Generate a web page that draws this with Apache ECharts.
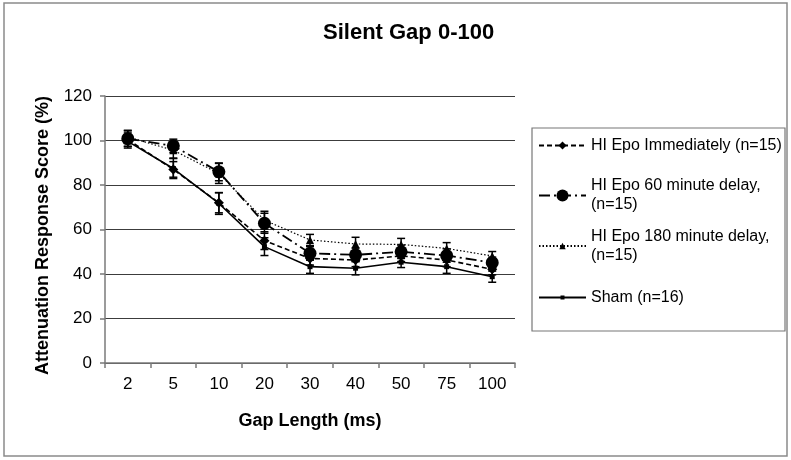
<!DOCTYPE html>
<html>
<head>
<meta http-equiv="Content-Type" content="text/html; charset=utf8">
<title>Silent Gap 0-100</title>
<script src="https://cdn.jsdelivr.net/npm/echarts@6/dist/echarts.min.js"></script>
<style type="text/css">
html,body{margin:0;padding:0;background:#fff;}
#main{width:791px;height:460px;}
</style>
</head>
<body>
<div id="main"></div>
<script>
// gap lengths (ms) on the x axis
var gapLabels = ['2', '5', '10', '20', '30', '40', '50', '75', '100'];

// mean attenuation response score (%) per group
var epoImmediate = [100.4, 87, 72, 55, 47, 46.3, 48.1, 46.3, 42.1];
var epo60 = [100.8, 97.6, 85.9, 62.8, 49.3, 48.6, 50, 48.3, 45.1];
var epo180 = [101.6, 95.6, 85.2, 64.2, 55.3, 53.5, 53.3, 51.5, 48.1];
var sham = [99.6, 87.4, 71.7, 52.3, 43.3, 42.6, 45.3, 43.3, 38.8];

// error bar half lengths
var epoImmediateErr = [3, 3.5, 4.5, 4, 3, 3, 2.5, 3, 2.5];
var epo60Err = [3.5, 3, 4, 4.5, 3, 3, 3, 3, 2.5];
var epo180Err = [3, 3.5, 4.5, 4, 2.5, 3, 2.7, 2.6, 2];
var shamErr = [3, 4.5, 4.9, 4, 3, 3, 2.4, 3, 2.5];

var names = [
	'HI Epo Immediately (n=15)',
	'HI Epo 60 minute delay,\n(n=15)',
	'HI Epo 180 minute delay,\n(n=15)',
	'Sham (n=16)'
];

var font = 'Liberation Sans, Arial, sans-serif';

function errorBars(values, errs){
	return {
		type:'custom',
		silent:true,
		z:3,
		encode:{x:0, y:[1, 2]},
		data:values.map(function(v, i){ return [i, v - errs[i], v + errs[i]]; }),
		renderItem:function(params, api){
			var lo = api.coord([api.value(0), api.value(1)]);
			var hi = api.coord([api.value(0), api.value(2)]);
			var w = 4;
			var st = {stroke:'#000', lineWidth:1.5};
			return {type:'group', children:[
				{type:'line', shape:{x1:lo[0], y1:lo[1], x2:hi[0], y2:hi[1]}, style:st},
				{type:'line', shape:{x1:hi[0]-w, y1:hi[1], x2:hi[0]+w, y2:hi[1]}, style:st},
				{type:'line', shape:{x1:lo[0]-w, y1:lo[1], x2:lo[0]+w, y2:lo[1]}, style:st}
			]};
		}
	};
}

function legendFor(name, top, h, twoLines){
	return {
		data:[name],
		orient:'vertical',
		left:538,
		top:top,
		padding:0,
		itemWidth:47,
		itemHeight:h,
		itemGap:0,
		selectedMode:false,
		textStyle:{
			fontFamily:font,
			fontSize:16,
			color:'#000',
			lineHeight:19,
			padding:twoLines ? [19, 0, 0, 0] : 0
		}
	};
}

var chart = echarts.init(document.getElementById('main'));

var option = {
	animation:false,
	backgroundColor:'#fff',
	title:{
		text:'Silent Gap 0-100',
		left:318,
		top:17,
		textStyle:{fontFamily:font, fontSize:22, fontWeight:'bold', color:'#000'}
	},
	legend:[
		legendFor(names[0], 136, 10, false),
		legendFor(names[1], 167, 15, true),
		legendFor(names[2], 217.5, 8, true),
		legendFor(names[3], 288, 5, false)
	],
	graphic:[
		{type:'rect', shape:{x:4, y:3, width:783, height:453}, style:{fill:'none', stroke:'#8a8a8a', lineWidth:1.5}, silent:true},
		{type:'rect', shape:{x:532, y:128, width:253, height:203}, style:{fill:'none', stroke:'#777', lineWidth:1.2}, silent:true}
	],
	grid:{left:105, right:276, top:96, bottom:97, outerBoundsMode:'none'},
	xAxis:{
		type:'category',
		data:gapLabels,
		boundaryGap:true,
		name:'Gap Length (ms)',
		nameLocation:'middle',
		nameGap:49,
		nameTextStyle:{fontFamily:font, fontSize:18, fontWeight:'bold', color:'#000'},
		axisLine:{lineStyle:{color:'#7a7a7a', width:1.5}},
		axisTick:{show:true, interval:0, length:5, lineStyle:{color:'#7a7a7a', width:1.5}},
		axisLabel:{fontFamily:font, fontSize:17, color:'#000', margin:13, interval:0}
	},
	yAxis:{
		type:'value',
		min:0,
		max:120,
		interval:20,
		name:'Attenuation Response Score (%)',
		nameLocation:'middle',
		nameGap:53,
		nameTextStyle:{fontFamily:font, fontSize:18, fontWeight:'bold', color:'#000', padding:[0, 12, 0, 0]},
		axisLine:{show:true, lineStyle:{color:'#7a7a7a', width:1.5}},
		axisTick:{show:true, length:5, lineStyle:{color:'#7a7a7a', width:1.5}},
		axisLabel:{fontFamily:font, fontSize:17, color:'#000', margin:13},
		splitLine:{show:true, lineStyle:{color:'#3c3c3c', width:1.2}}
	},
	series:[
		{
			name:names[0], type:'line', data:epoImmediate, z:4,
			symbol:'diamond', symbolSize:10,
			lineStyle:{color:'#000', width:1.6, type:[5, 3]},
			itemStyle:{color:'#000'},
			emphasis:{disabled:true}
		},
		{
			name:names[1], type:'line', data:epo60, z:4,
			symbol:'circle', symbolSize:13,
			lineStyle:{color:'#000', width:1.8, type:[11, 4, 2, 4]},
			itemStyle:{color:'#000'},
			emphasis:{disabled:true}
		},
		{
			name:names[2], type:'line', data:epo180, z:4,
			symbol:'triangle', symbolSize:8,
			lineStyle:{color:'#000', width:1.2, type:[1.5, 2]},
			itemStyle:{color:'#000'},
			emphasis:{disabled:true}
		},
		{
			name:names[3], type:'line', data:sham, z:4,
			symbol:'rect', symbolSize:5,
			lineStyle:{color:'#000', width:1.6, type:'solid'},
			itemStyle:{color:'#000'},
			emphasis:{disabled:true}
		},
		errorBars(epoImmediate, epoImmediateErr),
		errorBars(epo60, epo60Err),
		errorBars(epo180, epo180Err),
		errorBars(sham, shamErr)
	]
};

chart.setOption(option);
</script>
</body>
</html>
